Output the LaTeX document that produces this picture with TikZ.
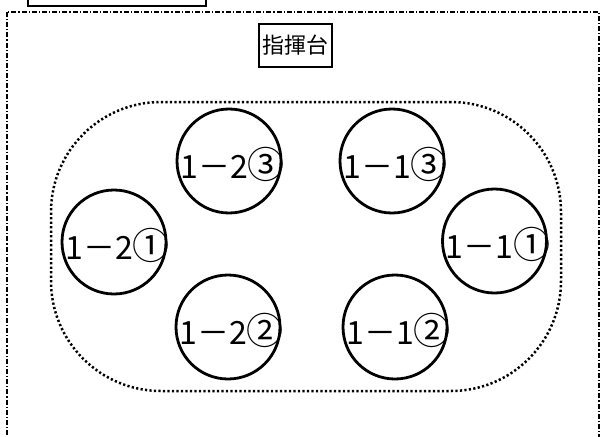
\documentclass[tikz,border=0pt]{standalone}
\usepackage{fontspec}
\setmainfont{Noto Sans CJK JP}
\newcommand{\seatnum}[1]{{\fontsize{37}{37}\selectfont #1}}
\begin{document}
\begin{tikzpicture}[x=1pt,y=-1pt,
  seat/.style={circle,draw,line width=2.8pt,minimum size=104pt,inner sep=0pt},
  seatlabel/.style={inner sep=0pt,font=\fontsize{32}{32}\selectfont},
  frame/.style={line width=1.3pt,dash pattern=on 5pt off 2pt on 1.2pt off 2pt},
  area/.style={draw,line width=2.5pt,dash pattern=on 2.2pt off 2.3pt,rounded corners=110pt,minimum width=510pt,minimum height=289pt,inner sep=0pt}]
\useasboundingbox (0,0) rectangle (604,436);
\draw[line width=2.5pt] (28,-10) rectangle (206,6);
\draw[frame] (7,12) rectangle (599,460);
\node[draw,line width=1.2pt,minimum width=73pt,minimum height=43pt,inner sep=0pt,font=\fontsize{22}{22}\selectfont] (stage) at (295.5,45.5) {指揮台};
\node[area] (zone) at (306,246.5) {};
\node[seat] (c23) at (229,161) {};
\node[seat] (c13) at (392,161) {};
\node[seat] (c21) at (114,242) {};
\node[seat] (c11) at (494.5,241) {};
\node[seat] (c22) at (228,327) {};
\node[seat] (c12) at (395,327) {};
\node[seatlabel] at ([shift={(3.5,3)}]c23) {1－2\seatnum{③}};
\node[seatlabel] at ([shift={(3.5,3)}]c13) {1－1\seatnum{③}};
\node[seatlabel] at ([shift={(3.5,3)}]c21) {1－2\seatnum{①}};
\node[seatlabel] at ([shift={(3.5,3)}]c11) {1－1\seatnum{①}};
\node[seatlabel] at ([shift={(3.5,3)}]c22) {1－2\seatnum{②}};
\node[seatlabel] at ([shift={(3.5,3)}]c12) {1－1\seatnum{②}};
\end{tikzpicture}
\end{document}
